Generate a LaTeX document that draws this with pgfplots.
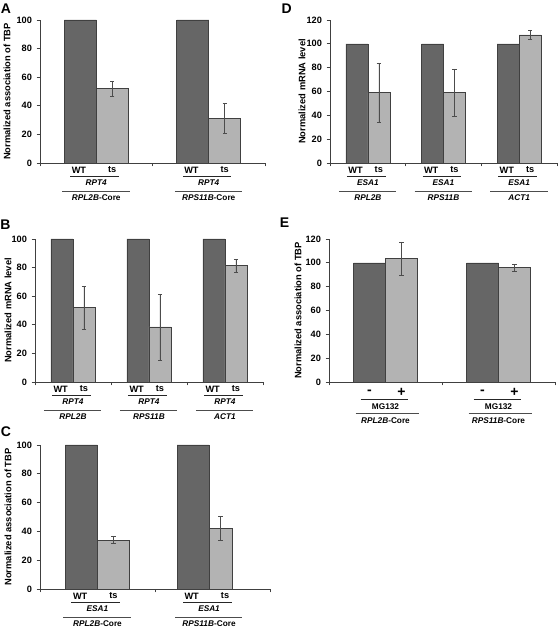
\documentclass[border=0pt]{standalone}
\usepackage{fontspec}
\setmainfont{Liberation Sans}
\usepackage{pgfplots}
\pgfplotsset{compat=1.18}
\definecolor{wtc}{RGB}{102,102,102}
\definecolor{tsc}{RGB}{179,179,179}
\definecolor{edgec}{RGB}{64,64,64}
\newcommand{\lab}{\bfseries\fontsize{6.2}{7}\selectfont}
\newcommand{\labb}{\bfseries\fontsize{6.9}{7}\selectfont}
\pgfplotsset{
 panel/.style={
  scale only axis, anchor=south west,
  axis x line=bottom, axis y line=left,
  axis line style={-, black!75, line width=0.6pt},
  tick align=outside, major tick length=2.5pt,
  tick style={black!75, line width=0.5pt},
  xticklabels={}, ymin=0, clip=false, ybar,
  /pgf/number format/assume math mode=true,
  yticklabel style={font=\bfseries\fontsize{6.9}{8}\selectfont},
  every axis y label/.style={rotate=90, anchor=center, font=\bfseries\fontsize{7}{8}\selectfont},
 },
 wt/.style={fill=wtc, draw=edgec, line width=0.4pt},
 ts/.style={fill=tsc, draw=edgec, line width=0.4pt,
  error bars/y dir=both, error bars/y explicit,
  error bars/error bar style={black!70, line width=0.4pt},
  error bars/error mark options={rotate=90, mark size=1.6pt, black!70, line width=0.4pt}},
}
% group labels: #1 x centre, #2 left text, #3 right text, #4 middle, #5 bottom
\newcommand{\glab}[5]{%
 \node[font=\labb] at ([xshift=-\hw-1pt, yshift=-5.25pt]axis cs:#1,0) {#2};
 \node[font=\labb] at ([xshift=\hw, yshift=-5.25pt]axis cs:#1,0) {#3};
 \draw[black!85, line width=0.6pt] ([xshift=-\hw-7.5pt, yshift=-9.8pt]axis cs:#1,0) -- ([xshift=\hw+5pt, yshift=-9.8pt]axis cs:#1,0);
 \node[font=\lab] at ([yshift=-15pt]axis cs:#1,0) {#4};
 \draw[black!70, line width=0.6pt] ([xshift=-\hw-13.5pt, yshift=-21.4pt]axis cs:#1,0) -- ([xshift=\hw+13pt, yshift=-21.4pt]axis cs:#1,0);
 \node[font=\lab] at ([yshift=-26.25pt]axis cs:#1,0) {#5};
}
\newcommand{\glabE}[2]{%
 \node[font=\bfseries\fontsize{10.5}{10}\selectfont] at ([xshift=-\hw, yshift=-7.5pt]axis cs:#1,0) {-};
 \node[font=\bfseries\fontsize{10.5}{10}\selectfont] at ([xshift=\hw, yshift=-7.5pt]axis cs:#1,0) {+};
 \draw[black!85, line width=0.6pt] ([xshift=-18.75pt, yshift=-13pt]axis cs:#1,0) -- ([xshift=16.5pt, yshift=-13pt]axis cs:#1,0);
 \node[font=\lab] at ([yshift=-18.75pt]axis cs:#1,0) {MG132};
 \draw[black!70, line width=0.6pt] ([xshift=-22.5pt, yshift=-23.7pt]axis cs:#1,0) -- ([xshift=24.75pt, yshift=-23.7pt]axis cs:#1,0);
 \node[font=\lab] at ([yshift=-29.25pt]axis cs:#1,0) {#2};
}
\begin{document}
\begin{tikzpicture}
\useasboundingbox (0,0) rectangle (420pt,471.75pt);
\tikzset{letter/.style={font=\bfseries\fontsize{10.5}{11}\selectfont}}
\node[letter] at (4.5pt,465.5pt) {A};
\node[letter] at (215pt,465.5pt) {D};
\node[letter] at (4pt,303pt) {B};
\node[letter] at (4.5pt,147.75pt) {C};
\node[letter] at (213.5pt,304.5pt) {E};
% ---------- A
\def\hw{12pt}
\begin{axis}[panel, at={(30pt,349.5pt)}, width=168.75pt, height=107.25pt,
 xmin=-0.5, xmax=1.5, xtick={-0.5,0.5,1.5}, ymax=100, ytick={0,20,40,60,80,100}, bar width=24pt,
 ylabel={Normalized association of TBP}, ylabel style={at={(axis description cs:-0.147,0.5)}}]
\addplot[wt, bar shift=-12pt] coordinates {(0,100) (1,100)};
\addplot[ts, bar shift=12pt] coordinates {(0,52) +- (0,5) (1,31) +- (0,10.5)};
\glab{0}{WT}{ts}{\textit{RPT4}}{\textit{RPL2B}-Core}
\glab{1}{WT}{ts}{\textit{RPT4}}{\textit{RPS11B}-Core}
\end{axis}
% ---------- D
\def\hw{8.25pt}
\begin{axis}[panel, at={(247.5pt,349.5pt)}, width=170.25pt, height=107.25pt,
 xmin=-0.5, xmax=2.5, xtick={-0.5,0.5,1.5,2.5}, ymax=120, ytick={0,20,40,60,80,100,120}, bar width=16.5pt,
 ylabel={Normalized mRNA level}, ylabel style={at={(axis description cs:-0.123,0.5)}}]
\addplot[wt, bar shift=-8.25pt] coordinates {(0,100) (1,100) (2,100)};
\addplot[ts, bar shift=8.25pt] coordinates {(0,59) +- (0,25) (1,59) +- (0,20) (2,107.5) +- (0,3.5)};
\glab{0}{WT}{ts}{\textit{ESA1}}{\textit{RPL2B}}
\glab{1}{WT}{ts}{\textit{ESA1}}{\textit{RPS11B}}
\glab{2}{WT}{ts}{\textit{ESA1}}{\textit{ACT1}}
\end{axis}
% ---------- B
\def\hw{8.25pt}
\begin{axis}[panel, at={(26.25pt,185.25pt)}, width=171pt, height=107.25pt,
 xmin=-0.5, xmax=2.5, xtick={-0.5,0.5,1.5,2.5}, ymax=100, ytick={0,20,40,60,80,100}, bar width=16.5pt,
 ylabel={Normalized mRNA level}, ylabel style={at={(axis description cs:-0.118,0.5)}}]
\addplot[wt, bar shift=-8.25pt] coordinates {(0,100) (1,100) (2,100)};
\addplot[ts, bar shift=8.25pt] coordinates {(0,52) +- (0,15) (1,38.5) +- (0,23) (2,81.5) +- (0,4.5)};
\glab{0}{WT}{ts}{\textit{RPT4}}{\textit{RPL2B}}
\glab{1}{WT}{ts}{\textit{RPT4}}{\textit{RPS11B}}
\glab{2}{WT}{ts}{\textit{RPT4}}{\textit{ACT1}}
\end{axis}
% ---------- E
\def\hw{12pt}
\begin{axis}[panel, at={(246.75pt,185.25pt)}, width=169.5pt, height=107.25pt,
 xmin=-0.5, xmax=1.5, xtick={-0.5,0.5,1.5}, ymax=120, ytick={0,20,40,60,80,100,120}, bar width=24pt,
 ylabel={Normalized association of TBP}, ylabel style={at={(axis description cs:-0.137,0.5)}}]
\addplot[wt, bar shift=-12pt] coordinates {(0,100) (1,100)};
\addplot[ts, bar shift=12pt] coordinates {(0,103.5) +- (0,14) (1,96) +- (0,3)};
\glabE{0}{\textit{RPL2B}-Core}
\glabE{1}{\textit{RPS11B}-Core}
\end{axis}
% ---------- C
\def\hw{12pt}
\begin{axis}[panel, at={(30pt,30pt)}, width=172.5pt, height=108pt,
 xmin=-0.5, xmax=1.5, xtick={-0.5,0.5,1.5}, ymax=100, ytick={0,20,40,60,80,100}, bar width=24pt,
 ylabel={Normalized association of TBP}, ylabel style={at={(axis description cs:-0.139,0.5)}}]
\addplot[wt, bar shift=-12pt] coordinates {(0,100) (0.97,100)};
\addplot[ts, bar shift=12pt] coordinates {(0,34) +- (0,2.3)};
\addplot[ts, bar width=17.25pt, bar shift=8.6pt] coordinates {(0.97,42) +- (0,8.5)};
\glab{0}{WT}{ts}{\textit{ESA1}}{\textit{RPL2B}-Core}
\glab{0.97}{WT}{ts}{\textit{ESA1}}{\textit{RPS11B}-Core}
\end{axis}
\end{tikzpicture}
\end{document}
